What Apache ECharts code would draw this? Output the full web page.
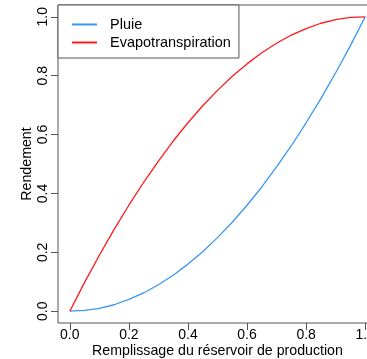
<!DOCTYPE html>
<html>
<head>
<meta charset="utf-8">
<script src="https://cdn.jsdelivr.net/npm/echarts@6/dist/echarts.min.js"></script>
<style>html,body{margin:0;padding:0;background:#fff;}#c{width:367px;height:359px;}</style>
</head>
<body>
<div id="c"></div>
<script>
var remplissage = [0,0.05,0.1,0.15,0.2,0.25,0.3,0.35,0.4,0.45,0.5,0.55,0.6,0.65,0.7,0.75,0.8,0.85,0.9,0.95,1.0];
var pluie = [0,0.003,0.01,0.022,0.04,0.062,0.09,0.122,0.16,0.202,0.25,0.302,0.36,0.422,0.49,0.562,0.64,0.722,0.81,0.902,1.0];
var evap  = [0,0.098,0.19,0.278,0.36,0.438,0.51,0.578,0.64,0.698,0.75,0.798,0.84,0.878,0.91,0.938,0.96,0.978,0.99,0.998,1.0];
var ticks = [0,0.2,0.4,0.6,0.8,1.0];
var seriesNames = ['Pluie','Evapotranspiration'];
var xTitle = 'Remplissage du réservoir de production';
var yTitle = 'Rendement';

function pairs(xs, ys){ return xs.map(function(x,i){ return [x, ys[i]]; }); }
var font = 'Liberation Sans, Arial, sans-serif';
var axisCol = '#555';
var chart = echarts.init(document.getElementById('c'), null, {renderer:'canvas'});
chart.setOption({
  animation:false,
  backgroundColor:'#fff',
  grid:{left:58, top:5, width:319, height:318, show:true, borderColor:axisCol, borderWidth:1, containLabel:false, outerBoundsMode:'none'},
  legend:{
    show:true, left:58, top:5, orient:'vertical',
    data:seriesNames,
    backgroundColor:'#fff', borderColor:axisCol, borderWidth:1,
    padding:[12,8,8,14], itemGap:3, itemWidth:25, itemHeight:2, icon:'rect',
    textStyle:{fontFamily:font, fontSize:14.5, color:'#000', padding:[0,0,0,8]}
  },
  xAxis:{
    type:'value', min:-0.04, max:1.04,
    splitLine:{show:false},
    axisLine:{show:false, onZero:false},
    axisTick:{show:true, inside:false, length:7, customValues:ticks, lineStyle:{color:axisCol}},
    axisLabel:{show:true, customValues:ticks, margin:5, fontFamily:font, fontSize:14, color:'#000', formatter:function(v){return v.toFixed(1);}},
    name:xTitle, nameLocation:'middle', nameGap:21, nameMoveOverlap:false,
    nameTextStyle:{fontFamily:font, fontSize:14.2, color:'#000'}
  },
  yAxis:{
    type:'value', min:-0.04, max:1.04,
    splitLine:{show:false},
    axisLine:{show:false, onZero:false},
    axisTick:{show:true, inside:false, length:7, customValues:ticks, lineStyle:{color:axisCol}},
    axisLabel:{show:true, customValues:ticks, rotate:90, margin:8, fontFamily:font, fontSize:14, color:'#000', formatter:function(v){return v.toFixed(1);}},
    name:yTitle, nameLocation:'middle', nameGap:24, nameRotate:90, nameMoveOverlap:false,
    nameTextStyle:{fontFamily:font, fontSize:14.2, color:'#000'}
  },
  series:[
    {name:seriesNames[0], type:'line', data:pairs(remplissage,pluie), showSymbol:false, symbol:'none', lineStyle:{color:'#3a96f0', width:1.3}, itemStyle:{color:'#3a96f0'}, z:2},
    {name:seriesNames[1], type:'line', data:pairs(remplissage,evap), showSymbol:false, symbol:'none', lineStyle:{color:'#ff1a1a', width:1.3}, itemStyle:{color:'#ff1a1a'}, z:2}
  ]
});
</script>
</body>
</html>
